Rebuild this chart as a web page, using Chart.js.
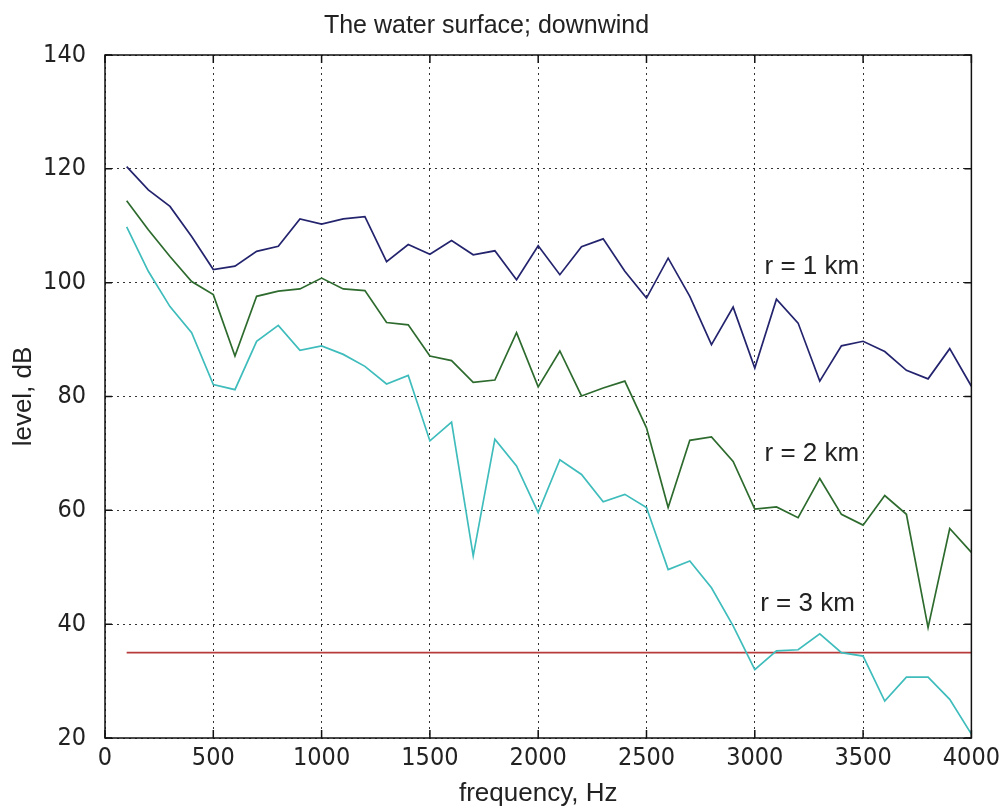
<!DOCTYPE html>
<html>
<head>
<meta charset="utf-8">
<script src="https://cdn.jsdelivr.net/npm/chart.js@4/dist/chart.umd.min.js"></script>
<style>
  html, body { margin: 0; padding: 0; background: #fff; }
  canvas { display: block; }
</style>
</head>
<body>
<canvas id="plots" width="1005" height="809"></canvas>
<script>
// frequencies (Hz)
var freq = [100, 200, 300, 400, 500, 600, 700, 800, 900, 1000,
            1100, 1200, 1300, 1400, 1500, 1600, 1700, 1800, 1900, 2000,
            2100, 2200, 2300, 2400, 2500, 2600, 2700, 2800, 2900, 3000,
            3100, 3200, 3300, 3400, 3500, 3600, 3700, 3800, 3900, 4000];

// levels, dB
var level1km = [120.4, 116.3, 113.4, 108.1, 102.3, 102.9, 105.5, 106.4, 111.2, 110.3,
                111.2, 111.6, 103.7, 106.7, 105.0, 107.4, 104.9, 105.6, 100.5, 106.5,
                101.4, 106.3, 107.7, 102.0, 97.3, 104.3, 97.6, 89.1, 95.7, 85.0,
                97.1, 92.9, 82.7, 88.9, 89.7, 87.9, 84.6, 83.1, 88.4, 81.8];
var level2km = [114.4, 109.3, 104.6, 100.2, 97.9, 87.1, 97.6, 98.5, 98.9, 100.8,
                98.9, 98.6, 93.0, 92.6, 87.1, 86.3, 82.5, 82.9, 91.2, 81.7,
                88.0, 80.1, 81.5, 82.7, 74.5, 60.5, 72.3, 72.9, 68.6, 60.2,
                60.6, 58.7, 65.6, 59.3, 57.4, 62.6, 59.3, 39.4, 56.8, 52.6];
var level3km = [109.8, 102.0, 95.8, 91.2, 82.1, 81.2, 89.7, 92.5, 88.1, 88.9,
                87.4, 85.3, 82.2, 83.7, 72.2, 75.5, 52.0, 72.5, 67.8, 59.6,
                68.9, 66.3, 61.5, 62.8, 60.5, 49.6, 51.1, 46.4, 39.7, 32.0,
                35.3, 35.5, 38.3, 35.0, 34.4, 26.5, 30.7, 30.7, 26.8, 20.7];

// threshold line
var thresholdX = [100, 4000];
var thresholdY = [35, 35];

// curve labels (text, freq, level of baseline)
var curveLabels = ['r = 1 km', 'r = 2 km', 'r = 3 km'];
var curveLabelX = [3045, 3045, 3025];
var curveLabelY = [101.6, 68.6, 42.3];

function pts(xs, ys) {
  return xs.map(function (v, i) { return {x: v, y: ys[i]}; });
}

var sansFont = '"Liberation Sans", Arial, sans-serif';
var narrowFont = '"Liberation Sans Narrow", "Arial Narrow", "DejaVu Sans Condensed", sans-serif';

// axes box, inward tick marks and curve labels
var boxPlugin = {
  id: 'box',
  afterDatasetsDraw: function (chart) {
    var ctx = chart.ctx, a = chart.chartArea;
    var xs = chart.scales.x, ys = chart.scales.y;
    ctx.save();
    ctx.strokeStyle = '#111';
    ctx.lineWidth = 1.5;
    ctx.strokeRect(a.left, a.top, a.right - a.left, a.bottom - a.top);
    ctx.beginPath();
    xs.ticks.forEach(function (t) {
      var px = xs.getPixelForValue(t.value);
      ctx.moveTo(px, a.bottom); ctx.lineTo(px, a.bottom - 8);
      ctx.moveTo(px, a.top); ctx.lineTo(px, a.top + 8);
    });
    ys.ticks.forEach(function (t) {
      var py = ys.getPixelForValue(t.value);
      ctx.moveTo(a.left, py); ctx.lineTo(a.left + 7, py);
      ctx.moveTo(a.right, py); ctx.lineTo(a.right - 7, py);
    });
    ctx.stroke();

    ctx.font = '26px ' + sansFont;
    ctx.fillStyle = '#222';
    ctx.textBaseline = 'alphabetic';
    ctx.textAlign = 'left';
    curveLabels.forEach(function (txt, i) {
      ctx.fillText(txt, xs.getPixelForValue(curveLabelX[i]), ys.getPixelForValue(curveLabelY[i]));
    });
    ctx.restore();
  }
};

new Chart(document.getElementById('plots'), {
  type: 'line',
  data: {
    datasets: [
      {data: pts(freq, level1km), borderColor: '#24246e', borderWidth: 1.7},
      {data: pts(freq, level2km), borderColor: '#2e6b2e', borderWidth: 1.7},
      {data: pts(freq, level3km), borderColor: '#3fbcbc', borderWidth: 1.7},
      {data: pts(thresholdX, thresholdY), borderColor: '#b83a3a', borderWidth: 1.7}
    ]
  },
  options: {
    responsive: false,
    animation: false,
    layout: {padding: {left: 0, top: 0, right: 32, bottom: 0}},
    elements: {point: {radius: 0}, line: {tension: 0, fill: false}},
    plugins: {
      legend: {display: false},
      tooltip: {enabled: false},
      title: {
        display: true,
        text: 'The water surface; downwind',
        color: '#222',
        font: {family: sansFont, size: 25, weight: 'normal'},
        padding: {top: 11, bottom: 14}
      }
    },
    scales: {
      x: {
        type: 'linear',
        min: 0, max: 4000,
        afterFit: function (s) { s.height = 71; },
        ticks: {stepSize: 500, color: '#222', padding: 5,
                font: {family: narrowFont, size: 25}, maxRotation: 0,
                callback: function (v) { return String(v); }},
        grid: {color: '#333', lineWidth: 1, drawTicks: false, tickLength: 0},
        border: {display: false, dash: [2, 4]},
        title: {display: true, text: 'frequency, Hz', color: '#222',
                font: {family: sansFont, size: 26}, padding: {top: 0, bottom: 0}}
      },
      y: {
        min: 20, max: 140,
        afterFit: function (s) { s.width = 105; },
        ticks: {stepSize: 20, color: '#222', padding: 19,
                font: {family: narrowFont, size: 25},
                callback: function (v) { return String(v); }},
        grid: {color: '#333', lineWidth: 1, drawTicks: false, tickLength: 0},
        border: {display: false, dash: [2, 4]},
        title: {display: true, text: 'level, dB', color: '#222',
                font: {family: sansFont, size: 26}, padding: {top: 8, bottom: 0}}
      }
    }
  },
  plugins: [boxPlugin]
});
</script>
</body>
</html>
